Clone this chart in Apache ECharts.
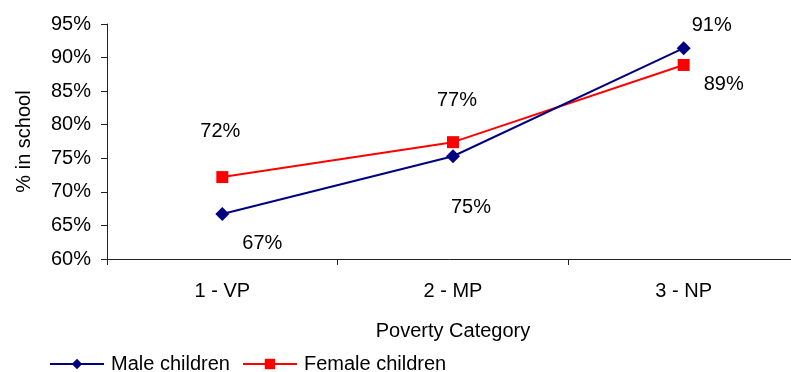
<!DOCTYPE html>
<html>
<head>
<meta charset="utf-8">
<script src="https://cdn.jsdelivr.net/npm/echarts@6/dist/echarts.min.js"></script>
<style>
  html, body { margin: 0; padding: 0; background: #fff; }
  #chart { width: 791px; height: 372px; }
</style>
</head>
<body>
<div id="chart"></div>
<script>
// School attendance by poverty category and sex
var categories = ['1 - VP', '2 - MP', '3 - NP'];
var maleValues = [66.7, 75.3, 91.4];
var femaleValues = [72.2, 77.4, 88.9];
var yTicks = [60, 65, 70, 75, 80, 85, 90, 95];

// label placement around each point (dx, dy from the marker centre)
var maleLabelOffsets = [[40, 29], [18, 51], [28, -23]];
var femaleLabelOffsets = [[-2, -46], [4, -42], [40, 20]];

var FONT = 'Liberation Sans, Arial, sans-serif';

function withLabels(values, offsets) {
  return values.map(function (v, i) {
    return {
      value: v,
      label: { offset: offsets[i] }
    };
  });
}

var chart = echarts.init(document.getElementById('chart'), null, { renderer: 'canvas' });

chart.setOption({
  animation: false,
  textStyle: { fontFamily: FONT },
  // the category axis runs on past the right edge of the canvas
  grid: {
    left: 107, right: -8, top: 24, height: 235,
    containLabel: false,
    outerBoundsMode: 'none'
  },
  legend: {
    left: 49,
    top: 354,
    padding: 0,
    itemWidth: 54,
    itemHeight: 13,
    itemGap: 12,
    textStyle: { fontFamily: FONT, fontSize: 20, color: '#000', padding: [0, 0, 0, 2] },
    data: ['Male children', 'Female children']
  },
  xAxis: {
    type: 'category',
    data: categories,
    boundaryGap: true,
    name: 'Poverty Category',
    nameLocation: 'middle',
    nameGap: 62,
    nameTextStyle: { fontFamily: FONT, fontSize: 20, color: '#000' },
    axisLine: { lineStyle: { color: '#222', width: 1 } },
    axisTick: { show: true, length: 6, alignWithLabel: false, lineStyle: { color: '#222' } },
    axisLabel: { fontFamily: FONT, fontSize: 20, color: '#000', margin: 22 },
    splitLine: { show: false }
  },
  yAxis: {
    type: 'value',
    min: yTicks[0],
    max: yTicks[yTicks.length - 1],
    interval: 5,
    name: '% in school',
    nameLocation: 'middle',
    nameRotate: 90,
    nameGap: 73,
    nameTextStyle: { fontFamily: FONT, fontSize: 20, color: '#000' },
    axisLine: { show: true, lineStyle: { color: '#222', width: 1 } },
    axisTick: { show: true, length: 6, lineStyle: { color: '#222' } },
    axisLabel: {
      fontFamily: FONT, fontSize: 20, color: '#000', margin: 16,
      formatter: function (v) { return v + '%'; }
    },
    splitLine: { show: false }
  },
  series: [
    {
      name: 'Male children',
      type: 'line',
      data: withLabels(maleValues, maleLabelOffsets),
      symbol: 'diamond',
      symbolSize: 14,
      color: '#000080',
      lineStyle: { color: '#000080', width: 2 },
      itemStyle: { color: '#000080' },
      label: {
        show: true,
        position: 'inside',
        fontFamily: FONT,
        fontSize: 20,
        color: '#000',
        formatter: function (p) { return Math.round(p.value) + '%'; }
      },
      z: 3
    },
    {
      name: 'Female children',
      type: 'line',
      data: withLabels(femaleValues, femaleLabelOffsets),
      symbol: 'rect',
      symbolSize: 12,
      color: '#ff0000',
      lineStyle: { color: '#ff0000', width: 2 },
      itemStyle: { color: '#ff0000' },
      label: {
        show: true,
        position: 'inside',
        fontFamily: FONT,
        fontSize: 20,
        color: '#000',
        formatter: function (p) { return Math.round(p.value) + '%'; }
      },
      z: 2
    }
  ]
});
</script>
</body>
</html>
